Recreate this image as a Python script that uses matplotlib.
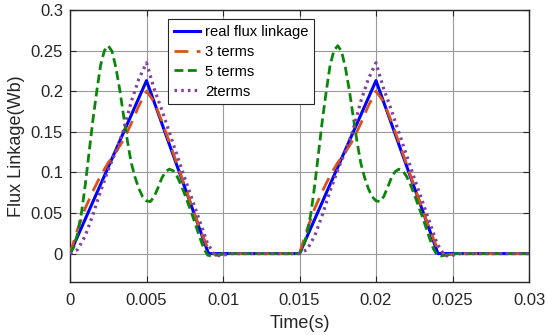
import numpy as np
import matplotlib
matplotlib.use("Agg")
import matplotlib.pyplot as plt
from matplotlib.ticker import FuncFormatter

plt.rcParams['font.family'] = ['Liberation Sans', 'DejaVu Sans']

# ---- data -------------------------------------------------------------
# real flux linkage (piecewise linear corners)
real_t = [0.0, 0.005, 0.00905, 0.015, 0.020, 0.02405, 0.030]
real_v = [0.0, 0.213, 0.0, 0.0, 0.213, 0.0, 0.0]

# 3-term approximation, sampled every 0.5 ms
three_t1 = [0.0, 0.0005, 0.001, 0.0015, 0.002, 0.0025, 0.003, 0.0035, 0.004, 0.0045,
            0.005, 0.0055, 0.006, 0.0065, 0.007, 0.0075, 0.008, 0.0085, 0.009, 0.0095,
            0.010, 0.0105]
three_v1 = [0.0, 0.030, 0.056, 0.077, 0.096, 0.112, 0.125, 0.140, 0.160, 0.182,
            0.200, 0.187, 0.163, 0.137, 0.110, 0.083, 0.056, 0.030, 0.007, -0.002,
            -0.001, 0.0]
three_t2 = [0.015, 0.0155, 0.016, 0.0165, 0.017, 0.0175, 0.018, 0.0185, 0.019, 0.0195,
            0.020, 0.0205, 0.021, 0.0215, 0.022, 0.0225, 0.023, 0.0235, 0.024, 0.0245,
            0.025, 0.0255, 0.030]
three_v2 = [0.0, 0.030, 0.056, 0.077, 0.096, 0.112, 0.125, 0.140, 0.160, 0.182,
            0.200, 0.187, 0.163, 0.137, 0.110, 0.083, 0.056, 0.030, 0.007, -0.002,
            -0.001, 0.0, 0.0]

# 5-term approximation, sampled every 0.25 ms
five_t1 = [0.0, 0.00025, 0.0005, 0.00075, 0.001, 0.00125, 0.0015, 0.00175, 0.002, 0.00225,
           0.0025, 0.00275, 0.003, 0.00325, 0.0035, 0.00375, 0.004, 0.00425, 0.0045, 0.00475,
           0.005, 0.00525, 0.0055, 0.00575, 0.006, 0.00625, 0.0065, 0.00675, 0.007, 0.00725,
           0.0075, 0.00775, 0.008, 0.00825, 0.0085, 0.00875, 0.009, 0.00925, 0.0095, 0.00975,
           0.010]
five_v1 = [0.0, 0.008, 0.025, 0.050, 0.085, 0.125, 0.165, 0.200, 0.232, 0.250,
           0.256, 0.249, 0.229, 0.202, 0.170, 0.139, 0.112, 0.094, 0.080, 0.070,
           0.065, 0.064, 0.070, 0.081, 0.093, 0.101, 0.104, 0.102, 0.095, 0.085,
           0.073, 0.060, 0.047, 0.033, 0.019, 0.006, -0.002, -0.003, -0.002, -0.001,
           0.0]
five_t2 = [0.015, 0.01525, 0.0155, 0.01575, 0.016, 0.01625, 0.0165, 0.01675, 0.017, 0.01725,
           0.0175, 0.01775, 0.018, 0.01825, 0.0185, 0.01875, 0.019, 0.01925, 0.0195, 0.01975,
           0.020, 0.02025, 0.0205, 0.02075, 0.021, 0.02125, 0.0215, 0.02175, 0.022, 0.02225,
           0.0225, 0.02275, 0.023, 0.02325, 0.0235, 0.02375, 0.024, 0.02425, 0.0245, 0.02475,
           0.025, 0.030]
five_v2 = [0.0, 0.008, 0.025, 0.050, 0.085, 0.125, 0.165, 0.200, 0.232, 0.250,
           0.256, 0.249, 0.229, 0.202, 0.170, 0.139, 0.112, 0.094, 0.080, 0.070,
           0.065, 0.064, 0.070, 0.081, 0.093, 0.101, 0.104, 0.102, 0.095, 0.085,
           0.073, 0.060, 0.047, 0.033, 0.019, 0.006, -0.002, -0.003, -0.002, -0.001,
           0.0, 0.0]

# 2-term approximation, sampled every 0.5 ms
two_t1 = [0.0, 0.0005, 0.001, 0.0015, 0.002, 0.0025, 0.003, 0.0035, 0.004, 0.0045,
          0.005, 0.0055, 0.006, 0.0065, 0.007, 0.0075, 0.008, 0.0085, 0.009, 0.0095,
          0.010, 0.0105]
two_v1 = [0.0, 0.005, 0.022, 0.048, 0.077, 0.103, 0.126, 0.152, 0.187, 0.215,
          0.235, 0.203, 0.177, 0.149, 0.121, 0.093, 0.066, 0.039, 0.012, -0.003,
          -0.002, 0.0]
two_t2 = [0.015, 0.0155, 0.016, 0.0165, 0.017, 0.0175, 0.018, 0.0185, 0.019, 0.0195,
          0.020, 0.0205, 0.021, 0.0215, 0.022, 0.0225, 0.023, 0.0235, 0.024, 0.0245,
          0.025, 0.0255, 0.030]
two_v2 = [0.0, 0.005, 0.022, 0.048, 0.077, 0.103, 0.126, 0.152, 0.187, 0.215,
          0.235, 0.203, 0.177, 0.149, 0.121, 0.093, 0.066, 0.039, 0.012, -0.003,
          -0.002, 0.0, 0.0]

labels = ['real flux linkage', '3 terms', '5 terms', '2terms']
x_ticks = [0, 0.005, 0.01, 0.015, 0.02, 0.025, 0.03]
y_ticks = [0, 0.05, 0.1, 0.15, 0.2, 0.25, 0.3]

# ---- figure -----------------------------------------------------------
fig = plt.figure(figsize=(5.47, 3.35), dpi=100)
ax = fig.add_axes([70 / 547, 1 - 282 / 335, 459 / 547, 272 / 335])

ax.plot(real_t, real_v, color='#0000FF', lw=2.2, label=labels[0], zorder=3)
ax.plot(three_t1 + three_t2, three_v1 + three_v2, color='#D95319', lw=2.0,
        linestyle=(0, (5, 3)), label=labels[1], zorder=4)
ax.plot(five_t1 + five_t2, five_v1 + five_v2, color='#0A860A', lw=2.0,
        linestyle=(0, (3.2, 1.6)), label=labels[2], zorder=5)
ax.plot(two_t1 + two_t2, two_v1 + two_v2, color='#8240A0', lw=2.3,
        linestyle=(0, (0.8, 1.3)), label=labels[3], zorder=6)

ax.set_xlim(0, 0.03)
ax.set_ylim(-0.035, 0.3)
ax.set_xticks(x_ticks)
ax.set_yticks(y_ticks)
fmt = FuncFormatter(lambda v, p: '%g' % round(v, 4))
ax.xaxis.set_major_formatter(fmt)
ax.yaxis.set_major_formatter(fmt)

ax.grid(True, color='#9a9a9a', lw=0.8, linestyle='-')
ax.set_axisbelow(True)
ax.tick_params(direction='in', top=True, right=True, length=4, width=0.8,
               labelsize=12, colors='#262626', pad=8)
ax.tick_params(axis='y', pad=5)
for s in ax.spines.values():
    s.set_color('#262626')
    s.set_linewidth(1.0)

ax.set_xlabel('Time(s)', fontsize=13, color='#262626', labelpad=5)
ax.set_ylabel('Flux Linkage(Wb)', fontsize=13, color='#262626', labelpad=4)

leg = ax.legend(loc='upper left', bbox_to_anchor=(0.2135, 0.967), borderaxespad=0,
                fontsize=10.6, fancybox=False, framealpha=1, edgecolor='#262626',
                handlelength=1.8, handletextpad=0.3, labelspacing=0.4,
                borderpad=0.4)
leg.get_frame().set_linewidth(0.8)

fig.savefig('out.png', dpi=100)
